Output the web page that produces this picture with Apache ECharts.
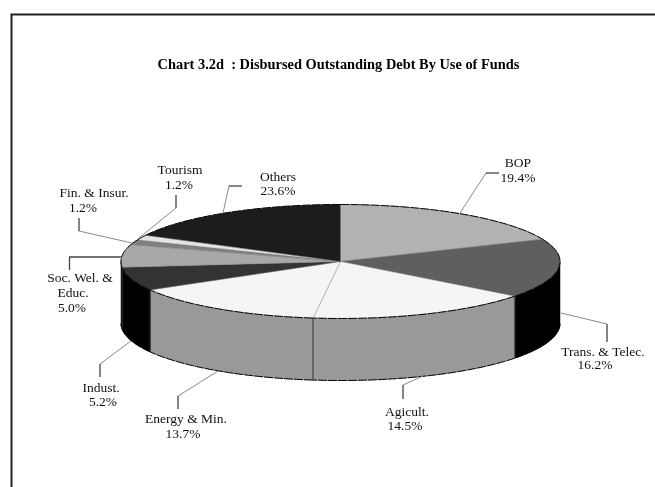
<!DOCTYPE html>
<html><head><meta charset="utf-8">
<script src="https://cdn.jsdelivr.net/npm/echarts@6/dist/echarts.min.js"></script>
<style>html,body{margin:0;background:#fff}#c{width:655px;height:487px}</style></head>
<body><div id="c"></div>
<script>
const categories = ['BOP','Trans. & Telec.','Agicult.','Energy & Min.','Indust.','Soc. Wel. & Educ.','Fin. & Insur.','Tourism','Others'];
const labelledShares = [19.4,16.2,14.5,13.7,5.2,5.0,1.2,1.2,23.6];
// Wedge sizes as actually drawn in the picture (percent of the pie)
const drawnShares = [18.6,16.8,16.6,14.7,6.7,6.4,1.4,1.4,17.4];
const topColors = ['#b2b2b2','#5f5f5f','#f5f5f5','#f5f5f5','#333333','#a8a8a8','#808080','#e5e5e5','#1c1c1c'];
const sideColors = ['#8a8a8a','#000000','#999999','#999999','#000000','#000000','#666666','#b0b0b0','#111111'];

const PIE = {cx:340.5, cy:261.5, rx:219.5, ry:57, depth:62};
const TOTAL = drawnShares.reduce((a,b)=>a+b,0);
const pt = (deg,dy=0)=>{const t=deg*Math.PI/180;return [PIE.cx+PIE.rx*Math.sin(t),PIE.cy-PIE.ry*Math.cos(t)+dy];};
const arc = (a,b,dy=0)=>{const n=Math.max(2,Math.ceil((b-a)/1.5));const out=[];for(let i=0;i<=n;i++)out.push(pt(a+(b-a)*i/n,dy));return out;};

let acc=0;
const spans = drawnShares.map(v=>{const s=acc/TOTAL*360;acc+=v;return [s,acc/TOTAL*360];});
const RIM={fill:'none',stroke:'#000',lineWidth:1,lineDash:[9,1]};

function renderItem(params,api){
  const i=params.dataIndex,[a,b]=spans[i],children=[];
  const vis0=Math.max(a,90),vis1=Math.min(b,270);
  if(vis1>vis0){
    const top=arc(vis0,vis1),bot=arc(vis0,vis1,PIE.depth).reverse();
    children.push({type:'polygon',shape:{points:top.concat(bot)},style:{fill:sideColors[i],stroke:sideColors[i],lineWidth:0.5}});
    children.push({type:'polyline',shape:{points:arc(vis0,vis1,PIE.depth)},style:RIM});
    if(a>=90&&a<=270)children.push({type:'line',shape:{x1:pt(a)[0],y1:pt(a)[1],x2:pt(a,PIE.depth)[0],y2:pt(a,PIE.depth)[1]},style:{stroke:'#333',lineWidth:1}});
  }
  children.push({type:'polygon',shape:{points:[[PIE.cx,PIE.cy]].concat(arc(a,b))},style:{fill:topColors[i],stroke:'#777',lineWidth:0.4}});
  children.push({type:'polyline',shape:{points:arc(a,b)},style:RIM});
  return {type:'group',children};
}

const pct = i=>labelledShares[i].toFixed(1)+'%';
// Label text lines as [text, centre x, centre y], then leader points
const annotations = [
 {lines:[[categories[0],518,163],[pct(0),518,178]],lead:[[460,213],[486,173]],stub:[[486,173],[499,173]]},
 {lines:[[categories[1],603,352],[pct(1),595,365]],lead:[[561,313],[607,324]],stub:[[607,324],[607,342]]},
 {lines:[[categories[2],407,412],[pct(2),405,426]],lead:[[423,376],[403,385]],stub:[[403,385],[403,399]]},
 {lines:[[categories[3],186,419],[pct(3),183,434]],lead:[[218,371],[178,396]],stub:[[178,396],[178,409]]},
 {lines:[[categories[4],101,388],[pct(4),103,402]],lead:[[131,341],[100,364]],stub:[[100,364],[100,377]]},
 {lines:[['Soc. Wel. &',80,278],['Educ.',73,293],[pct(5),72,308]],lead:null,stub:[[121,257],[69.5,257],[69.5,270]]},
 {lines:[[categories[6],94,193],[pct(6),83,208]],lead:[[132,243],[79,231]],stub:[[79,231],[79,218]]},
 {lines:[[categories[7],180,170],[pct(7),179,185]],lead:[[139,238],[176,208]],stub:[[176,208],[176,195]]},
 {lines:[[categories[8],278,177],[pct(8),278,191]],lead:[[223,213],[229,186]],stub:[[229,186],[242,186]]}
];
const FONT='"Liberation Serif","Times New Roman",serif';
const graphics=[
 {type:'polyline',shape:{points:[[11.5,487],[11.5,14.5],[655,14.5]]},style:{fill:'none',stroke:'#222',lineWidth:2},z:1},
 {type:'text',x:338.5,y:65,style:{text:'Chart 3.2d  : Disbursed Outstanding Debt By Use of Funds',font:'bold 14.4px '+FONT,fill:'#000',align:'center',verticalAlign:'middle'},z:5}
];
annotations.forEach(a=>{
  a.lines.forEach(([t,x,y])=>graphics.push({type:'text',x,y,style:{text:t,font:'13.5px '+FONT,fill:'#111',align:'center',verticalAlign:'middle'},z:5}));
  if(a.lead)graphics.push({type:'polyline',shape:{points:a.lead},style:{fill:'none',stroke:'#8a8a8a',lineWidth:1},z:5});
  graphics.push({type:'polyline',shape:{points:a.stub},style:{fill:'none',stroke:'#444',lineWidth:1.3},z:5});
});

const chart=echarts.init(document.getElementById('c'),null,{renderer:'canvas'});
chart.setOption({
  animation:false,
  backgroundColor:'#fff',
  graphic:graphics,
  series:[{type:'custom',coordinateSystem:'none',renderItem,silent:true,
    data:categories.map((c,i)=>({name:c,value:labelledShares[i]}))}]
});
</script></body></html>
